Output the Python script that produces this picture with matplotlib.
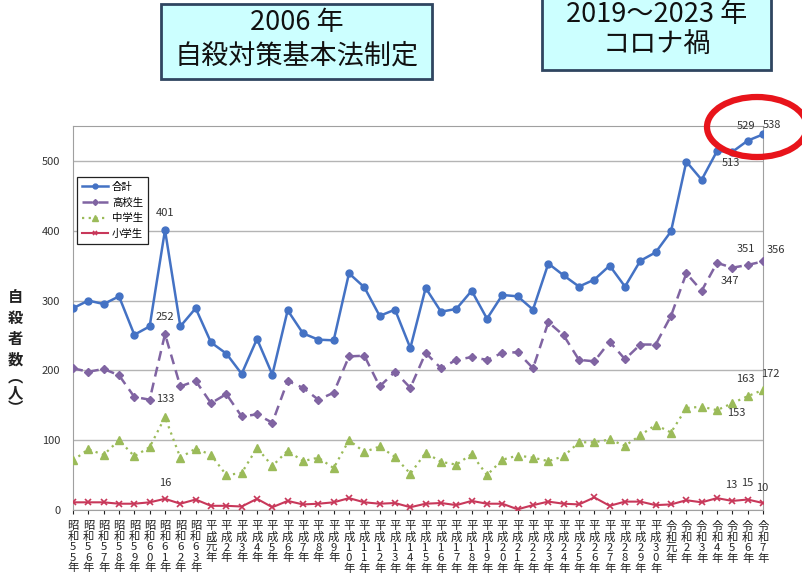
import matplotlib
matplotlib.use("Agg")
import matplotlib.pyplot as plt
from matplotlib.patches import Rectangle, Ellipse

plt.rcParams['font.family'] = ['Noto Sans CJK JP', 'DejaVu Sans']

# x categories (year labels)
years = ([f"昭和{n}年" for n in range(55, 64)] + ["平成元年"]
         + [f"平成{n}年" for n in range(2, 31)] + ["令和元年"]
         + [f"令和{n}年" for n in range(2, 8)])

# suicide counts
total = [289, 300, 295, 306, 251, 263, 401, 263, 289, 240,
         224, 195, 245, 194, 286, 253, 244, 243, 339, 319,
         278, 287, 232, 318, 284, 288, 314, 274, 308, 306,
         287, 353, 336, 320, 330, 350, 320, 357, 369, 399,
         499, 473, 514, 513, 529, 538]
high = [203, 198, 202, 193, 162, 158, 252, 177, 185, 153,
        166, 134, 137, 125, 185, 175, 158, 168, 220, 221,
        177, 198, 175, 225, 203, 215, 219, 215, 225, 226,
        203, 269, 250, 215, 213, 241, 216, 237, 237, 278,
        339, 314, 354, 347, 351, 356]
middle = [71, 87, 79, 100, 77, 90, 133, 75, 88, 79,
          50, 53, 89, 63, 85, 70, 75, 60, 100, 83,
          91, 76, 52, 82, 69, 65, 80, 50, 72, 78,
          75, 70, 77, 97, 97, 101, 92, 107, 122, 111,
          146, 148, 143, 153, 163, 172]
elem = [11, 11, 11, 9, 9, 11, 16, 9, 15, 6,
        6, 5, 16, 4, 13, 8, 9, 11, 17, 11,
        9, 10, 4, 9, 10, 7, 13, 9, 9, 1,
        7, 12, 9, 8, 18, 6, 12, 12, 7, 8,
        14, 11, 17, 13, 15, 10]

series_names = ["合計", "高校生", "中学生", "小学生"]
ylabel_chars = ["自", "殺", "者", "数", "︵", "人", "︶"]

W, H = 803, 588
fig = plt.figure(figsize=(W / 100, H / 100), dpi=100)
ax = fig.add_axes([73 / W, 1 - 510 / H, 690 / W, 384 / H])

x = list(range(len(years)))
ax.plot(x, total, color='#4472c4', lw=1.8, marker='o', ms=5, label=series_names[0], zorder=5)
ax.plot(x, high, color='#8064a2', lw=1.8, ls=(0, (4, 2.5)), marker='D', ms=4.3,
        label=series_names[1], zorder=4)
ax.plot(x, middle, color='#9bbb59', lw=1.6, ls=(0, (1, 2)), marker='^', ms=5.5,
        label=series_names[2], zorder=3)
ax.plot(x, elem, color='#c8385a', lw=1.5, marker='x', ms=4.5, mew=1.2,
        label=series_names[3], zorder=3)

ax.set_xlim(0, len(years) - 1)
ax.set_ylim(0, 550)
ax.set_yticks(range(0, 600, 100))
ax.yaxis.grid(True, color='#b4b4b4', lw=1)
ax.set_axisbelow(True)
for s in ax.spines.values():
    s.set_color('#a0a0a0')
ax.tick_params(axis='y', length=0, labelsize=8, pad=9, colors='#333333')
ax.set_xticks(x)
ax.set_xticklabels(["\n".join(lab) for lab in years], fontsize=8.2, linespacing=1.03,
                   va='top')
ax.tick_params(axis='x', length=3, color='#a0a0a0', pad=5)
ax.tick_params(axis='x', colors='#222222')

# value labels
def lab(series, i, dx, dy):
    ax.annotate(str(series[i]), (i, series[i]), xytext=(dx, dy), textcoords='offset pixels',
                ha='center', va='center', fontsize=8, color='#333333')

lab(total, 6, 0, 17)
lab(high, 6, 0, 17)
lab(middle, 6, 0, 18)
lab(elem, 6, 0, 16)
lab(total, 43, -1, -11)
lab(total, 44, -2, 15)
lab(total, 45, 9, 9)
lab(high, 43, -2, -13)
lab(high, 44, -2, 16)
lab(high, 45, 13, 11)
lab(middle, 43, 4, -10)
lab(middle, 44, -2, 17)
lab(middle, 45, 7, 16)
lab(elem, 43, -1, 16)
lab(elem, 44, 0, 17)
lab(elem, 45, -1, 15)

leg = ax.legend(loc='upper left', bbox_to_anchor=(0.006, 0.867), fontsize=7.5,
                handlelength=2.5, handletextpad=0.4, borderpad=0.45, labelspacing=0.55,
                borderaxespad=0, fancybox=False, framealpha=1, edgecolor='#222222',
                markerscale=0.7)
leg.get_frame().set_linewidth(0.9)

# y axis label (vertical writing)
for ch, yy in zip(ylabel_chars, [297, 318, 339, 360, 376, 392, 408]):
    fig.text(15 / W, 1 - yy / H, ch, ha='center', va='center',
             fontsize=11, fontweight='bold', color='#222222')

# annotation boxes
def box(x0, y0, x1, y1, lines, ys, size):
    fig.add_artist(Rectangle((x0 / W, 1 - y1 / H), (x1 - x0) / W, (y1 - y0) / H,
                             transform=fig.transFigure, facecolor='#ccffff',
                             edgecolor='#2f4560', lw=2))
    for t, yy in zip(lines, ys):
        fig.text((x0 + x1) / 2 / W, 1 - yy / H, t, ha='center', va='center',
                 fontsize=size, color='#111111')

box(161, 4, 432, 79, ["2006 年", "自殺対策基本法制定"], [22, 56], 19.5)
box(542, -5, 771, 70, ["2019～2023 年", "コロナ禍"], [14, 45], 19.5)

# red circle around the latest values
fig.add_artist(Ellipse((757 / W, 1 - 127 / H), 100 / W, 60 / H, transform=fig.transFigure,
                       fill=False, edgecolor='#e8141b', lw=4.5))

fig.savefig("out.png", dpi=100)
